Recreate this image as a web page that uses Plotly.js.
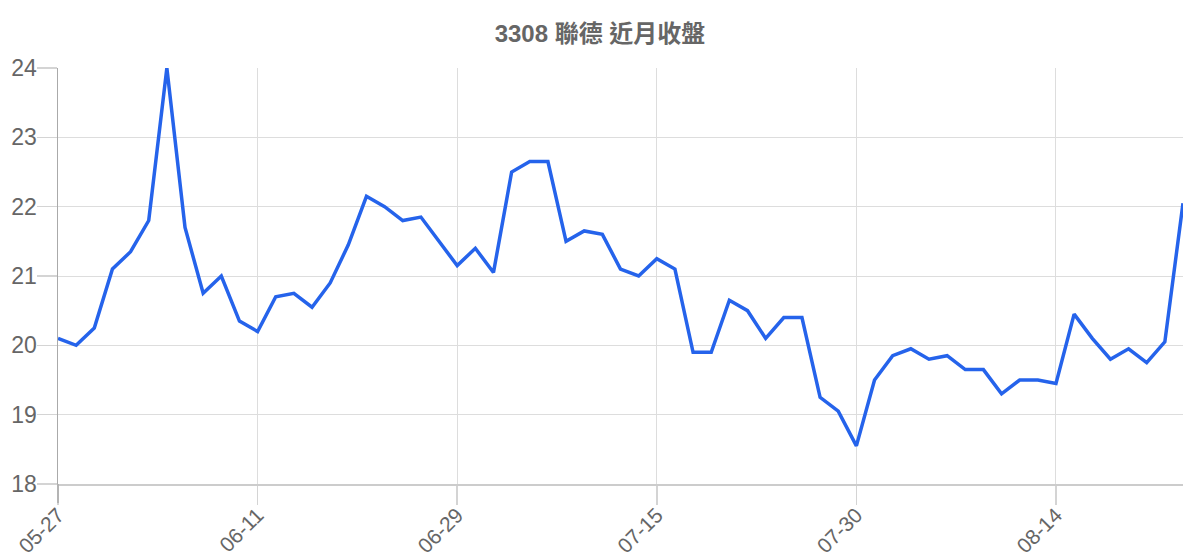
<!DOCTYPE html>
<html>
<head>
<meta charset="utf-8">
<script src="https://cdn.plot.ly/plotly-3.0.1.min.js"></script>
<style>html,body{margin:0;padding:0;background:#fff;}#chart{width:1200px;height:560px;}</style>
</head>
<body>
<div id="chart"></div>
<script>
const chartTitle = '3308 聯德 近月收盤';
const dates = ['05-27','05-28','05-29','05-30','05-31','06-03','06-04','06-05','06-06','06-07','06-10','06-11',
  '06-12','06-13','06-14','06-17','06-18','06-19','06-20','06-21','06-24','06-26','06-29',
  '07-01','07-02','07-03','07-04','07-05','07-08','07-09','07-10','07-11','07-12','07-15',
  '07-16','07-17','07-18','07-19','07-22','07-23','07-24','07-25','07-26','07-29','07-30',
  '07-31','08-01','08-02','08-05','08-06','08-07','08-08','08-09','08-12','08-13','08-14',
  '08-15','08-16','08-19','08-20','08-21','08-22','08-23'];
const closes = [20.1,20.0,20.25,21.1,21.35,21.8,24.0,21.7,20.75,21.0,
  20.35,20.2,20.7,20.75,20.55,20.9,21.45,22.15,22.0,21.8,
  21.85,21.5,21.15,21.4,21.05,22.5,22.65,22.65,21.5,21.65,
  21.6,21.1,21.0,21.25,21.1,19.9,19.9,20.65,20.5,20.1,
  20.4,20.4,19.25,19.05,18.55,19.5,19.85,19.95,19.8,19.85,
  19.65,19.65,19.3,19.5,19.5,19.45,20.45,20.1,19.8,19.95,
  19.75,20.05,22.05];
const xTickLabels = ['05-27','06-11','06-29','07-15','07-30','08-14'];
const yTicks = [18,19,20,21,22,23,24];

const fontFam = '"Liberation Sans", Arial, "Noto Sans CJK TC", sans-serif';

const trace = {
  x: dates, y: closes, type: 'scatter', mode: 'lines',
  line: {color: '#2563eb', width: 3.5},
  hoverinfo: 'x+y'
};

const layout = {
  width: 1200, height: 560,
  margin: {l: 58, r: 17, t: 68, b: 76},
  paper_bgcolor: '#fff', plot_bgcolor: '#fff',
  showlegend: false,
  title: {
    text: chartTitle, x: 0.5, xref: 'container', y: 1 - 34/560, yref: 'container', yanchor: 'middle',
    font: {family: fontFam, size: 24, color: '#666', weight: 700}
  },
  xaxis: {
    type: 'category', range: [0, dates.length - 1],
    tickmode: 'array', tickvals: xTickLabels, ticktext: xTickLabels,
    tickangle: -45, ticks: 'outside', ticklen: 19, tickcolor: '#d4d4d4', tickwidth: 1.5,
    ticklabelstandoff: -10,
    showgrid: true, gridcolor: '#ddd', gridwidth: 1,
    showline: true, linecolor: '#ccc', linewidth: 1.5,
    tickfont: {family: fontFam, size: 21, color: '#666'},
    zeroline: false, fixedrange: true
  },
  yaxis: {
    range: [18, 24], tickmode: 'array', tickvals: yTicks,
    ticks: 'outside', ticklen: 20, tickcolor: '#d4d4d4', tickwidth: 1.5,
    ticklabelstandoff: -5,
    showgrid: true, gridcolor: '#ddd', gridwidth: 1,
    showline: true, linecolor: '#aaa', linewidth: 1.5,
    tickfont: {family: fontFam, size: 23, color: '#666'},
    zeroline: false, fixedrange: true
  },
  shapes: [{
    type: 'line', xref: 'paper', yref: 'paper', x0: 0, x1: 0, y0: 0, y1: -19/416,
    line: {color: '#aaa', width: 1.5}
  }]
};

Plotly.newPlot('chart', [trace], layout, {displayModeBar: false, staticPlot: true});
</script>
</body>
</html>
